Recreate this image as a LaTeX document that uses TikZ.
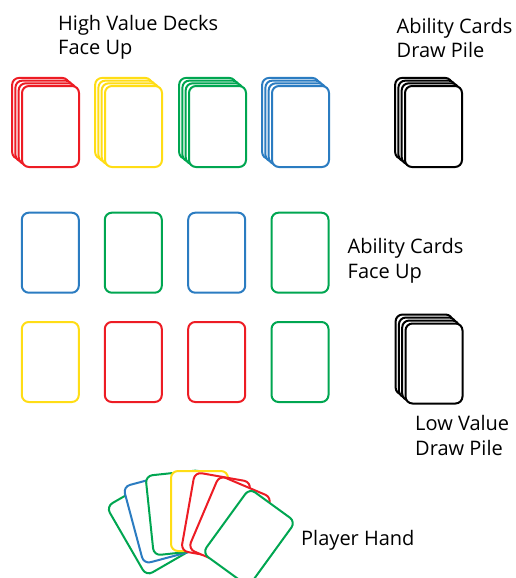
\documentclass[tikz,border=0pt]{standalone}
\usepackage{fontspec}
\setmainfont{Open Sans}
\definecolor{cardred}{HTML}{ED1C24}
\definecolor{cardyellow}{HTML}{FFDD15}
\definecolor{cardgreen}{HTML}{00A651}
\definecolor{cardblue}{HTML}{2B7CC1}
\begin{document}
\begin{tikzpicture}[x=1pt,y=-1pt,font=\fontsize{20}{24.5}\selectfont,
  card/.style={draw=#1,fill=white,line width=2pt,rounded corners=7pt,minimum width=57pt,minimum height=80pt,inner sep=0pt},
  deck/.style={card=#1,minimum height=81pt},
  lbl/.style={anchor=base west,align=left,inner sep=0pt}]
  \useasboundingbox (0,0) rectangle (516,578);
  % high value decks, face up
  \node[deck=cardred] (dr3) at (40.6,118.4){};
  \node[deck=cardred] (dr2) at (43.9,121.1){};
  \node[deck=cardred] (dr1) at (47.2,123.8){};
  \node[deck=cardred] (dr) at (50.5,126.5){};
  \node[deck=cardyellow] (dy3) at (123.6,118.4){};
  \node[deck=cardyellow] (dy2) at (126.9,121.1){};
  \node[deck=cardyellow] (dy1) at (130.2,123.8){};
  \node[deck=cardyellow] (dy) at (133.5,126.5){};
  \node[deck=cardgreen] (dg3) at (207.6,118.4){};
  \node[deck=cardgreen] (dg2) at (210.9,121.1){};
  \node[deck=cardgreen] (dg1) at (214.2,123.8){};
  \node[deck=cardgreen] (dg) at (217.5,126.5){};
  \node[deck=cardblue] (db3) at (290.6,118.4){};
  \node[deck=cardblue] (db2) at (293.9,121.1){};
  \node[deck=cardblue] (db1) at (297.2,123.8){};
  \node[deck=cardblue] (db) at (300.5,126.5){};
  % ability cards draw pile
  \node[deck=black] (dp3) at (423.6,118.4){};
  \node[deck=black] (dp2) at (426.9,121.1){};
  \node[deck=black] (dp1) at (430.2,123.8){};
  \node[deck=black] (dp) at (433.5,126.5){};
  % ability cards, face up
  \node[card=cardblue] (a1) at (50.3,252.7){};
  \node[card=cardgreen] (a2) at (133.3,252.7){};
  \node[card=cardblue] (a3) at (216.7,252.7){};
  \node[card=cardgreen] (a4) at (300,252.7){};
  \node[card=cardyellow] (a5) at (50.3,362){};
  \node[card=cardred] (a6) at (133.3,362){};
  \node[card=cardred] (a7) at (216.7,362){};
  \node[card=cardgreen] (a8) at (300,362){};
  % low value draw pile
  \node[card=black] (lp3) at (424.1,354.5){};
  \node[card=black] (lp2) at (427.4,357.5){};
  \node[card=black] (lp1) at (430.7,360.5){};
  \node[card=black] (lp) at (434,363.5){};
  % player hand
  \node[card=cardgreen,rotate=30] (h1) at (151,527){};
  \node[card=cardblue,rotate=15] (h2) at (161,518){};
  \node[card=cardgreen,rotate=6] (h3) at (178,512.7){};
  \node[card=cardyellow] (h4) at (199.5,511){};
  \node[card=cardred,rotate=-10] (h5) at (216,516.4){};
  \node[card=cardred,rotate=-23] (h6) at (230,523.2){};
  \node[card=cardgreen,rotate=-36] (h7) at (249,537.4){};
  % labels
  \node[lbl] (hvtext) at (58,55){High Value Decks\\Face Up};
  \node[lbl] (dptext) at (396.5,58){Ability Cards\\Draw Pile};
  \node[lbl] (futext) at (347.5,278){Ability Cards\\Face Up};
  \node[lbl] (lptext) at (415,455){Low Value\\Draw Pile};
  \node[lbl] (phtext) at (301,545){Player Hand};
\end{tikzpicture}
\end{document}
